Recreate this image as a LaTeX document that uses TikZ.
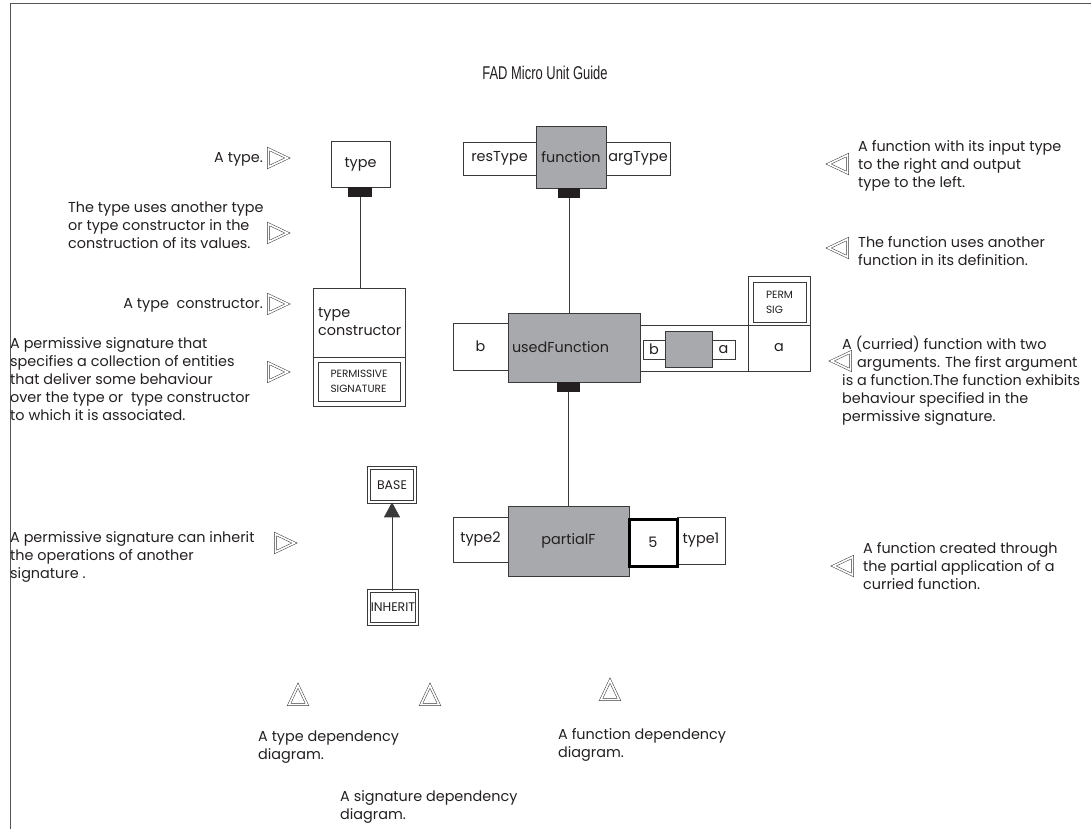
\documentclass[tikz,border=0pt]{standalone}
\usepackage{fontspec}
\setmainfont{Poppins}
\newfontfamily\titlefamily[FakeStretch=0.70]{Liberation Sans}
\usetikzlibrary{arrows.meta}
\definecolor{boxc}{HTML}{3A3A3A}
\definecolor{txt}{HTML}{231F20}
\definecolor{fgray}{HTML}{A7A9AC}
\definecolor{tabc}{HTML}{231F20}
\definecolor{framec}{HTML}{555555}
\newcommand\bodyfont{\fontsize{14.4}{18}\selectfont}
\newcommand\boxfont{\fontsize{12.5}{16}\selectfont}
\newcommand\smallfont{\fontsize{10.5}{15}\selectfont}
\begin{document}
\begin{tikzpicture}[x=1pt,y=-1pt,
  wh/.style 2 args={minimum width=#1, minimum height=#2},
  plain/.style={draw=boxc, line width=0.8pt, fill=white, inner sep=0pt, text=txt, font=\bodyfont},
  grayb/.style={plain, fill=fgray},
  tab/.style={fill=tabc, draw=none, inner sep=0pt},
  dbl/.style={draw=boxc, double, double distance=2.2pt, line width=0.6pt, inner sep=0pt, text=txt, font=\boxfont},
  lbl/.style={inner sep=0pt, align=left, anchor=north west, font=\bodyfont, text=txt},
  conn/.style={draw=boxc, line width=0.8pt},
  pics/hollowtri/.style={code={
    \draw[boxc, double, double distance=1.7pt, line width=0.5pt, line join=miter]
      (-9.5,-9) -- (9.5,0) -- (-9.5,9) -- cycle;}}
]
\useasboundingbox (0,0) rectangle (1091,829);

% frame and title
\draw[framec, line width=1pt] (10,829) -- (10,4) -- (1091,4);
\node[font=\titlefamily\fontsize{18.5}{22}\selectfont, text=txt] (title) at (545,73) {FAD Micro Unit Guide};

% type dependency: type uses a type constructor
\node[plain, wh={59}{46}] (type) at (360.5,164) {type};
\node[tab, wh={24}{10}] (ttab) at (360,192) {};
\node[plain, wh={92}{118}] (tcons) at (359,347) {};
\draw[conn] (tcons.west |- 0,357) -- (tcons.east |- 0,357);
\node[lbl] (tconslbl) at (318,307) {type\\constructor};
\node[plain, wh={82}{39}, font=\smallfont, align=left] (psig) at (359,381.5) {PERMISSIVE\\SIGNATURE};
\draw[conn] (ttab.south) -- (ttab.south |- tcons.north);

% function dependency
\node[plain, wh={73}{33}] (restype) at (499.5,158.5) {resType};
\node[plain, wh={64}{33}] (argtype) at (638,158.5) {argType};
\node[grayb, wh={70}{62}] (func) at (571,157) {function};
\node[tab, wh={22}{10}] (ftab) at (569,193) {};

\node[plain, wh={55}{47}] (ub) at (480.5,346.5) {b};
\node[grayb, wh={132}{69}, text width=124pt, align=left, inner xsep=4pt] (used) at (574,347.5) {usedFunction};
\node[plain, wh={108}{46}] (argbox) at (694,348) {};
\node[plain, wh={22}{19}] (bsm) at (654,349.5) {b};
\node[grayb, wh={47}{36}] (gsm) at (688.5,349) {};
\node[plain, wh={23}{19}] (asm) at (723.5,349.5) {a};
\node[plain, wh={62}{46}] (abox) at (779,348) {a};
\node[plain, wh={62}{49}] (permout) at (779,300.5) {};
\node[plain, wh={53}{40}, font=\smallfont, align=left] (permin) at (779.5,302) {PERM\\SIG};
\node[tab, wh={23}{10}] (utab) at (568.5,387) {};

\node[plain, wh={55}{45}] (type2) at (480.5,539.5) {type2};
\node[grayb, wh={121}{70}] (partial) at (568.5,541) {partialF};
\node[plain, wh={48}{47}] (type1) at (701,540.5) {type1};
\node[plain, draw=black, line width=3pt, wh={48}{47}] (five) at (653,542.5) {5};

\draw[conn] (ftab.south) -- (ftab.south |- used.north);
\draw[conn] (utab.south) -- (utab.south |- partial.north);

% signature dependency
\node[dbl, wh={46}{34}] (base) at (392,485) {BASE};
\node[dbl, wh={48}{33}] (inherit) at (393,607.5) {INHERIT};
\draw[conn, -{Triangle[width=16pt,length=15pt]}] (inherit.north -| base.south) -- (base.south);

% explanations on the left
\node[inner sep=0pt, anchor=east, font=\bodyfont, text=txt] (t1) at (263,159) {A type.};
\pic at (278,158) {hollowtri};
\node[lbl] (t2) at (68,202) {The type uses another type\\or type constructor in the\\construction of its values.};
\pic at (278,233) {hollowtri};
\node[inner sep=0pt, anchor=east, font=\bodyfont, text=txt] (t3) at (263,305) {A type~ constructor.};
\pic at (278,304) {hollowtri};
\node[lbl] (t4) at (10,337) {A permissive signature that\\specifies a collection of entities\\that deliver some behaviour\\over the type or~ type constructor\\to which it is associated.};
\pic at (278,372) {hollowtri};
\node[lbl] (t5) at (10,531) {A permissive signature can inherit\\the operations of another\\signature .};
\pic at (285,543) {hollowtri};

% explanations on the right
\node[lbl] (r1) at (858,140) {A function with its input type\\to the right and output\\type to the left.};
\pic[rotate=180] at (838,164) {hollowtri};
\node[lbl] (r2) at (858,236) {The function uses another\\function in its definition.};
\pic[rotate=180] at (838,248) {hollowtri};
\node[lbl] (r3) at (842,336) {A (curried) function with two\\\hspace*{15pt}arguments. The first argument\\is a function.The function exhibits\\behaviour specified in the\\permissive signature.};
\pic[rotate=180] at (841,361) {hollowtri};
\node[lbl] (r4) at (863,542) {A function created through\\the partial application of a\\curried function.};
\pic[rotate=180] at (843,566) {hollowtri};

% diagram kinds
\pic[rotate=90] at (298,695) {hollowtri};
\pic[rotate=90] at (430,695) {hollowtri};
\pic[rotate=90] at (610,690) {hollowtri};
\node[lbl] (b1) at (258,731) {A type dependency\\diagram.};
\node[lbl] (b2) at (340,790) {A signature dependency\\diagram.};
\node[lbl] (b3) at (558,728) {A function dependency\\diagram.};
\end{tikzpicture}
\end{document}
